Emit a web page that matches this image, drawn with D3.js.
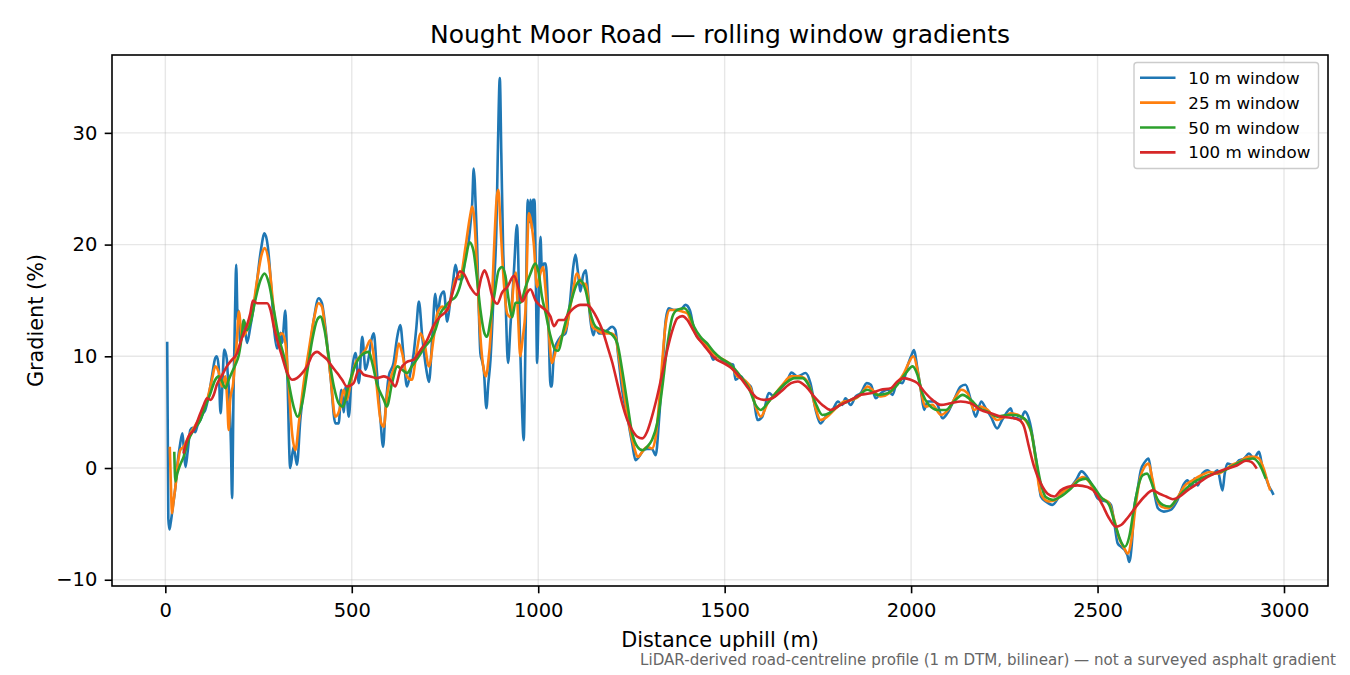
<!DOCTYPE html>
<html>
<head>
<meta charset="utf-8">
<script src="https://cdn.jsdelivr.net/npm/d3@7"></script>
<style>
  body { margin: 0; background: #fff; }
  svg text { font-family: "DejaVu Sans", sans-serif; }
</style>
</head>
<body>
<svg id="chart" width="1350" height="675"></svg>
<script>
// distance uphill (m), gradient (%)
const w10 = [[5,11.3],[8,-4.5],[11,-5.5],[14,-5.0],[20,-3.5],[27,-1.7],[33,0.5],[40,2.2],[46,3.1],[50,1.5],[54,0.1],[60,1.5],[67,3.4],[73,3.6],[80,3.2],[87,3.9],[94,4.3],[100,4.8],[107,5.2],[116,6.4],[125,8.2],[134,9.85],[138,10.0],[143,9.1],[148,4.9],[152,6.7],[158,10.6],[165,9.7],[167,8.6],[172,6.1],[176,2.0],[179,-2.7],[183,7.0],[187,14.0],[190,18.2],[194,13.25],[196,14.1],[201,11.2],[210,13.25],[219,11.2],[228,12.65],[241,15.3],[255,19.2],[266,21.0],[275,19.8],[284,16.2],[292,12.35],[300,10.7],[309,12.1],[313,11.2],[322,14.1],[327,8.8],[335,0.0],[344,1.9],[353,0.3],[362,4.3],[371,7.0],[385,10.0],[398,13.25],[411,15.2],[420,14.75],[429,12.65],[443,8.2],[456,4.0],[465,4.0],[472,7.0],[478,5.0],[484,7.3],[492,4.6],[500,8.5],[510,10.3],[519,7.6],[528,11.75],[537,8.8],[546,10.0],[553,11.5],[559,12.05],[567,8.8],[577,4.3],[584,1.9],[590,5.0],[599,8.2],[612,9.4],[622,11.75],[630,12.8],[639,10.0],[648,7.3],[657,8.5],[666,10.25],[673,12.5],[680,14.9],[689,11.75],[700,8.8],[707,7.7],[716,11.75],[724,15.6],[730,13.8],[738,15.35],[747,15.8],[756,13.1],[764,14.9],[771,16.5],[778,18.2],[787,16.9],[796,16.9],[805,19.2],[814,20.4],[820,22.5],[823,23.7],[827,26.8],[830,25.5],[832,23.7],[836,20.1],[840,15.0],[845,10.25],[850,9.5],[854,8.8],[861,5.35],[866,7.5],[872,9.7],[877,13.0],[881,16.2],[888,21.6],[892,28.8],[897,34.9],[901,28.2],[906,19.5],[912,15.35],[919,9.4],[926,12.95],[935,17.7],[943,21.75],[951,11.75],[957,4.9],[961,2.5],[966,11.75],[972,24.0],[976,22.0],[979,24.0],[984,21.3],[986,24.0],[990,24.0],[994,16.2],[997,9.4],[1001,14.5],[1006,20.7],[1010,17.7],[1015,18.3],[1020,18.3],[1022,17.7],[1028,12.35],[1033,7.3],[1036,7.3],[1042,10.25],[1046,10.9],[1050,11.2],[1060,11.75],[1073,12.05],[1085,14.75],[1094,18.0],[1100,19.1],[1106,17.7],[1113,15.8],[1120,17.2],[1128,17.7],[1133,15.9],[1140,13.25],[1148,11.9],[1154,12.6],[1163,12.05],[1176,12.05],[1186,12.35],[1198,12.65],[1207,12.35],[1214,10.25],[1225,7.0],[1239,4.6],[1252,2.2],[1261,0.7],[1270,1.0],[1283,1.6],[1292,1.7],[1305,1.7],[1315,1.15],[1324,4.3],[1333,8.8],[1342,13.25],[1350,14.3],[1364,14.15],[1382,14.2],[1395,14.6],[1407,14.1],[1418,12.35],[1426,11.75],[1444,11.3],[1458,10.85],[1469,9.7],[1479,10.0],[1493,9.7],[1507,9.4],[1523,9.25],[1529,7.9],[1543,8.2],[1556,7.6],[1570,7.3],[1579,5.95],[1588,4.3],[1601,4.6],[1619,6.7],[1633,6.4],[1651,7.15],[1669,7.9],[1679,8.55],[1695,8.2],[1717,8.5],[1730,7.6],[1744,5.2],[1757,4.0],[1771,4.6],[1789,5.2],[1804,5.95],[1815,5.65],[1824,6.25],[1838,5.65],[1851,6.4],[1865,6.7],[1881,7.6],[1892,7.45],[1905,6.25],[1919,6.7],[1937,7.0],[1950,6.55],[1963,7.7],[1977,7.6],[1990,9.1],[2001,10.1],[2008,10.55],[2016,9.1],[2026,7.0],[2035,5.2],[2044,5.95],[2062,5.95],[2071,5.65],[2084,4.45],[2097,4.9],[2115,6.1],[2133,7.3],[2146,7.45],[2160,6.1],[2173,4.6],[2188,5.95],[2200,5.35],[2214,4.6],[2231,3.55],[2244,4.3],[2262,5.2],[2267,5.35],[2276,4.45],[2285,4.45],[2293,4.3],[2305,5.05],[2321,3.7],[2330,1.9],[2339,-0.2],[2348,-2.55],[2361,-3.0],[2379,-3.3],[2397,-2.55],[2410,-2.0],[2424,-1.85],[2442,-1.1],[2457,-0.3],[2472,-0.8],[2487,-1.7],[2500,-2.7],[2513,-2.9],[2525,-3.0],[2536,-3.3],[2545,-4.95],[2554,-6.75],[2563,-7.05],[2573,-7.35],[2580,-7.8],[2585,-8.4],[2592,-6.75],[2598,-3.75],[2607,-2.0],[2616,-0.2],[2627,0.55],[2637,0.85],[2645,-0.8],[2654,-2.55],[2662,-3.6],[2678,-3.9],[2696,-3.75],[2714,-2.9],[2732,-1.4],[2741,-1.1],[2752,-1.7],[2760,-0.95],[2769,-1.55],[2781,-0.5],[2795,-0.2],[2808,-0.5],[2822,-0.2],[2835,-2.0],[2841,-0.5],[2848,0.4],[2866,0.25],[2880,0.7],[2893,0.85],[2906,1.3],[2919,0.85],[2933,1.45],[2942,0.1],[2951,-0.8],[2960,-1.65],[2966,-2.0],[2972,-2.4]];

const w25 = [[12,1.9],[15,-1.5],[18,-4.05],[22,-3.0],[27,-1.7],[34,0.5],[40,1.6],[49,1.9],[58,2.5],[67,3.1],[80,3.8],[94,4.6],[103,5.3],[112,6.1],[125,7.9],[134,9.1],[143,8.6],[152,7.3],[161,8.2],[166,6.0],[170,3.4],[174,6.1],[182,7.6],[187,9.5],[192,11.5],[197,14.0],[206,11.75],[219,12.35],[233,13.85],[246,16.8],[259,19.2],[266,19.7],[278,18.3],[289,14.75],[300,11.75],[313,12.05],[322,11.2],[331,7.3],[340,3.1],[349,1.6],[358,4.0],[371,7.6],[385,10.6],[398,13.25],[411,14.75],[420,14.45],[429,12.35],[443,8.2],[456,4.6],[467,5.2],[478,7.0],[487,6.1],[497,7.6],[510,9.4],[523,10.0],[537,10.6],[550,11.45],[559,10.0],[567,7.3],[579,4.0],[586,3.7],[594,6.4],[603,7.9],[617,9.4],[626,11.15],[635,10.3],[648,8.2],[661,7.9],[675,10.6],[684,12.05],[695,11.15],[707,9.1],[720,11.75],[729,13.8],[743,14.45],[756,14.1],[769,15.6],[778,16.9],[792,17.2],[805,19.8],[817,22.5],[823,23.4],[828,22.5],[836,17.7],[845,11.75],[854,8.8],[860,8.2],[866,9.5],[872,11.75],[881,19.2],[889,24.3],[893,24.9],[899,21.6],[908,16.5],[917,13.8],[926,13.5],[935,16.8],[940,17.5],[946,13.5],[952,10.0],[958,11.5],[966,14.2],[975,22.8],[979,22.4],[988,20.1],[997,16.2],[1004,17.2],[1013,18.0],[1019,16.2],[1028,12.35],[1037,9.4],[1048,10.6],[1062,11.75],[1076,12.65],[1091,15.35],[1104,17.4],[1118,16.5],[1127,16.5],[1136,14.75],[1145,12.65],[1158,12.35],[1176,12.05],[1194,12.05],[1207,11.75],[1216,10.0],[1230,6.7],[1243,4.0],[1257,1.9],[1267,1.0],[1279,1.45],[1292,1.9],[1305,1.75],[1315,2.8],[1324,5.8],[1333,9.7],[1342,12.95],[1353,14.15],[1368,14.15],[1386,14.0],[1400,13.85],[1413,12.65],[1426,11.75],[1444,11.15],[1462,10.55],[1479,10.0],[1497,9.7],[1516,9.25],[1534,8.2],[1552,7.9],[1570,7.15],[1583,5.5],[1597,4.6],[1615,5.8],[1633,6.55],[1655,7.45],[1678,8.2],[1700,8.2],[1718,7.9],[1731,7.0],[1744,5.35],[1757,4.3],[1775,4.6],[1798,5.35],[1820,5.95],[1843,6.1],[1865,6.55],[1883,7.3],[1901,6.85],[1919,6.4],[1941,6.7],[1963,7.6],[1981,8.5],[1995,9.5],[2006,10.0],[2016,8.95],[2026,7.0],[2039,5.5],[2057,5.65],[2080,4.75],[2102,5.35],[2120,6.4],[2135,7.0],[2151,6.7],[2169,5.2],[2186,5.5],[2205,5.2],[2231,4.3],[2250,4.6],[2267,4.9],[2294,4.6],[2312,4.0],[2325,2.8],[2334,0.7],[2343,-1.65],[2352,-2.55],[2370,-3.0],[2388,-2.85],[2406,-2.15],[2424,-1.85],[2442,-1.25],[2460,-0.8],[2478,-1.25],[2496,-2.3],[2513,-2.75],[2531,-3.15],[2545,-4.65],[2558,-6.3],[2572,-7.2],[2581,-7.65],[2592,-6.15],[2603,-3.15],[2615,-0.8],[2626,0.1],[2637,0.4],[2646,-0.8],[2657,-2.55],[2671,-3.45],[2689,-3.6],[2711,-2.85],[2732,-1.65],[2755,-1.1],[2778,-0.65],[2801,-0.35],[2823,-0.5],[2841,-0.2],[2859,0.25],[2880,0.55],[2904,1.0],[2921,1.0],[2933,0.85],[2947,-0.2],[2956,-1.25],[2963,-2.0]];

const w50 = [[24,1.45],[27,-1.2],[32,-0.5],[40,0.3],[49,1.0],[62,2.5],[76,3.4],[94,4.3],[107,5.5],[121,6.7],[134,7.9],[143,8.2],[152,7.75],[161,7.15],[170,7.9],[179,8.6],[188,9.25],[197,10.1],[206,12.05],[210,13.25],[219,12.35],[228,12.95],[241,15.0],[255,16.8],[266,17.4],[278,16.5],[291,14.15],[304,11.75],[318,10.0],[331,7.6],[344,5.5],[355,4.6],[367,5.8],[380,8.5],[394,11.45],[407,13.25],[416,13.55],[427,12.35],[438,10.0],[452,7.3],[465,5.8],[477,5.5],[490,7.2],[505,8.8],[523,10.0],[546,10.4],[555,9.4],[567,7.6],[586,6.1],[594,5.5],[608,7.6],[622,9.1],[635,8.8],[648,8.5],[661,9.1],[680,10.0],[697,10.9],[711,11.45],[724,12.35],[738,13.85],[751,14.45],[765,15.0],[778,15.3],[792,16.5],[805,18.6],[816,20.2],[826,19.5],[835,17.2],[845,14.15],[856,12.05],[863,11.75],[872,13.25],[883,15.6],[894,17.7],[903,18.0],[912,17.2],[921,15.0],[930,13.5],[939,14.8],[952,14.8],[966,16.2],[979,17.4],[992,18.3],[1001,17.5],[1010,15.35],[1020,13.85],[1033,11.8],[1046,10.55],[1053,10.5],[1069,12.5],[1087,14.75],[1104,16.5],[1113,16.8],[1127,15.9],[1140,13.85],[1154,12.65],[1172,12.35],[1194,12.05],[1212,11.15],[1225,8.8],[1239,5.8],[1252,3.1],[1266,1.9],[1279,1.6],[1292,1.9],[1305,2.5],[1319,4.0],[1333,7.3],[1346,10.9],[1360,13.55],[1373,14.15],[1391,14.3],[1404,13.85],[1418,12.65],[1435,11.75],[1453,11.15],[1471,10.4],[1489,9.85],[1516,9.25],[1543,8.2],[1565,7.15],[1583,5.65],[1597,5.2],[1615,5.8],[1637,6.7],[1664,7.6],[1687,8.05],[1709,8.05],[1727,7.3],[1744,5.8],[1762,4.75],[1780,4.9],[1802,5.5],[1829,5.95],[1856,6.4],[1883,7.0],[1910,6.55],[1937,6.7],[1963,7.45],[1986,8.5],[2004,9.1],[2017,8.35],[2030,6.7],[2048,5.65],[2071,5.2],[2093,5.2],[2115,5.95],[2138,6.55],[2160,6.1],[2183,5.35],[2205,5.05],[2231,4.6],[2258,4.75],[2276,4.75],[2303,4.45],[2321,3.4],[2334,1.0],[2348,-1.4],[2361,-2.6],[2379,-2.85],[2401,-2.55],[2428,-1.85],[2451,-1.1],[2469,-0.95],[2487,-1.55],[2509,-2.6],[2531,-3.3],[2549,-5.25],[2563,-6.6],[2573,-7.05],[2585,-6.15],[2597,-3.75],[2609,-1.65],[2621,-0.65],[2633,-0.5],[2644,-1.25],[2657,-2.55],[2675,-3.3],[2693,-3.45],[2714,-2.7],[2737,-1.85],[2759,-1.25],[2786,-0.8],[2813,-0.5],[2841,-0.2],[2866,0.25],[2893,0.7],[2916,0.85],[2933,0.4],[2951,-0.95]];

const w100 = [[49,1.3],[53,1.9],[62,2.8],[76,3.4],[94,4.9],[103,5.65],[112,6.25],[121,6.1],[130,6.55],[138,7.45],[152,8.3],[165,9.1],[179,9.7],[192,10.25],[201,11.2],[210,12.05],[219,12.8],[228,13.85],[235,15.0],[246,14.75],[259,14.75],[273,14.75],[282,14.15],[291,12.65],[300,11.45],[313,10.0],[327,8.5],[340,7.9],[353,8.05],[367,8.5],[380,9.1],[394,10.1],[407,10.4],[420,10.1],[434,9.7],[447,9.1],[461,8.5],[474,7.9],[487,7.3],[505,7.6],[519,8.8],[532,8.35],[550,8.2],[567,8.05],[586,8.2],[603,7.9],[617,7.3],[630,8.8],[648,9.5],[666,9.7],[684,10.55],[702,11.45],[720,12.8],[738,13.6],[756,14.15],[774,16.1],[790,17.6],[800,17.4],[818,16.2],[836,15.5],[847,17.0],[856,17.7],[865,17.0],[877,15.35],[890,14.7],[903,15.7],[917,16.2],[935,17.2],[948,16.0],[957,14.9],[970,15.7],[979,16.0],[993,15.0],[1006,14.5],[1019,14.15],[1033,13.55],[1042,12.7],[1055,13.25],[1069,13.25],[1082,13.85],[1095,14.3],[1113,14.6],[1131,14.6],[1145,14.15],[1158,13.4],[1172,12.35],[1186,10.85],[1199,9.4],[1212,7.6],[1225,5.8],[1239,4.3],[1252,3.4],[1266,2.8],[1279,2.65],[1292,3.25],[1305,4.6],[1319,6.4],[1333,8.5],[1346,10.55],[1360,12.35],[1373,13.4],[1386,13.6],[1400,13.25],[1413,12.5],[1426,11.75],[1444,11.0],[1462,10.25],[1479,9.7],[1497,9.4],[1516,9.0],[1543,8.05],[1570,6.85],[1588,6.25],[1606,6.1],[1628,6.25],[1651,6.85],[1678,7.6],[1696,7.75],[1718,7.3],[1740,6.4],[1762,5.65],[1784,5.2],[1811,5.65],[1838,6.1],[1865,6.55],[1892,6.7],[1919,7.0],[1946,7.15],[1963,7.75],[1981,8.05],[1999,7.9],[2017,7.6],[2035,6.85],[2057,6.1],[2080,5.65],[2106,5.8],[2133,5.95],[2160,5.8],[2186,5.2],[2214,4.9],[2240,4.6],[2267,4.5],[2290,4.3],[2303,3.7],[2316,1.9],[2330,0.1],[2348,-1.4],[2366,-2.3],[2384,-2.55],[2401,-2.0],[2419,-1.7],[2446,-1.55],[2473,-1.7],[2496,-2.3],[2513,-3.3],[2531,-4.5],[2549,-5.25],[2563,-5.1],[2576,-4.65],[2590,-4.05],[2607,-3.3],[2626,-2.55],[2648,-2.0],[2666,-2.3],[2684,-2.55],[2702,-2.8],[2720,-2.55],[2741,-2.0],[2768,-1.4],[2795,-0.8],[2823,-0.35],[2848,-0.05],[2875,0.25],[2898,0.65],[2912,0.55],[2927,-0.05]];

const seriesNames = ['10 m window', '25 m window', '50 m window', '100 m window'];
const seriesColors = ['#1f77b4', '#ff7f0e', '#2ca02c', '#d62728'];
const xTicks = [0, 500, 1000, 1500, 2000, 2500, 3000];
const yTicks = [-10, 0, 10, 20, 30];

const svg = d3.select('#chart');
const W = 1350, H = 675;
const margin = {left: 112, right: 1328, top: 55, bottom: 586};

const x = d3.scaleLinear().domain([-143, 3118]).range([margin.left, margin.right]);
const y = d3.scaleLinear().domain([-10.56, 36.97]).range([margin.bottom, margin.top]);

svg.append('rect').attr('width', W).attr('height', H).attr('fill', '#fff');

// grid
const grid = svg.append('g').attr('stroke', '#b0b0b0').attr('stroke-opacity', 0.3).attr('stroke-width', 1.4);
grid.selectAll('.gx').data(xTicks).enter().append('line')
   .attr('x1', d => x(d)).attr('x2', d => x(d))
   .attr('y1', margin.top).attr('y2', margin.bottom);
grid.selectAll('.gy').data(yTicks).enter().append('line')
   .attr('x1', margin.left).attr('x2', margin.right)
   .attr('y1', d => y(d)).attr('y2', d => y(d));

// series
const allSeries = [w10, w25, w50, w100];
const line = d3.line()
   .x(d => x(d[0]))
   .y(d => y(d[1]))
   .curve(d3.curveMonotoneX);

svg.append('g').selectAll('path')
   .data(allSeries)
   .enter()
   .append('path')
      .attr('d', line)
      .attr('fill', 'none')
      .attr('stroke', (d, i) => seriesColors[i])
      .attr('stroke-width', 2.6)
      .attr('stroke-linejoin', 'round')
      .attr('stroke-linecap', 'butt');

// axes
const fmt = d3.format('d');
const xAxis = svg.append('g')
   .attr('transform', `translate(0,${margin.bottom})`)
   .call(d3.axisBottom(x).tickValues(xTicks).tickFormat(fmt).tickSize(7.3).tickPadding(10).tickSizeOuter(0));
const yAxis = svg.append('g')
   .attr('transform', `translate(${margin.left},0)`)
   .call(d3.axisLeft(y).tickValues(yTicks).tickFormat(fmt).tickSize(7.3).tickPadding(7.3).tickSizeOuter(0));
[xAxis, yAxis].forEach(function(a) {
   a.select('.domain').remove();
   a.selectAll('line').attr('stroke', '#000').attr('stroke-width', 1.6);
   a.selectAll('text')
      .attr('fill', '#000')
      .style('font-size', '19.5px')
      .style('font-family', '"DejaVu Sans", sans-serif');
});

// frame
svg.append('rect')
   .attr('x', margin.left).attr('y', margin.top)
   .attr('width', margin.right - margin.left)
   .attr('height', margin.bottom - margin.top)
   .attr('fill', 'none')
   .attr('stroke', '#000')
   .attr('stroke-width', 1.6);

// titles
svg.append('text')
   .text('Nought Moor Road — rolling window gradients')
   .attr('x', (margin.left + margin.right) / 2)
   .attr('y', 42.5)
   .style('text-anchor', 'middle')
   .style('font-size', '25px');

svg.append('text')
   .text('Distance uphill (m)')
   .attr('x', (margin.left + margin.right) / 2)
   .attr('y', 646.5)
   .style('text-anchor', 'middle')
   .style('font-size', '20.8px');

svg.append('text')
   .text('Gradient (%)')
   .attr('transform', `translate(43,${(margin.top + margin.bottom) / 2}) rotate(-90)`)
   .style('text-anchor', 'middle')
   .style('font-size', '20.8px');

svg.append('text')
   .text('LiDAR-derived road-centreline profile (1 m DTM, bilinear) — not a surveyed asphalt gradient')
   .attr('x', 1336)
   .attr('y', 665)
   .style('text-anchor', 'end')
   .style('font-size', '15.1px')
   .attr('fill', '#666666');

// legend
const legend = svg.append('g');
legend.append('rect')
   .attr('x', 1134).attr('y', 62.5)
   .attr('width', 184.5).attr('height', 106)
   .attr('rx', 3)
   .attr('fill', '#fff').attr('fill-opacity', 0.8)
   .attr('stroke', '#cccccc').attr('stroke-width', 1.4);

seriesNames.forEach(function(name, i) {
   const cy = 77.7 + i * 24.9;
   legend.append('line')
      .attr('x1', 1140).attr('x2', 1175.5)
      .attr('y1', cy).attr('y2', cy)
      .attr('stroke', seriesColors[i])
      .attr('stroke-width', 2.6);
   legend.append('text')
      .text(name)
      .attr('x', 1188.3)
      .attr('y', cy)
      .attr('dy', '0.36em')
      .style('font-size', '16.7px');
});
</script>
</body>
</html>
